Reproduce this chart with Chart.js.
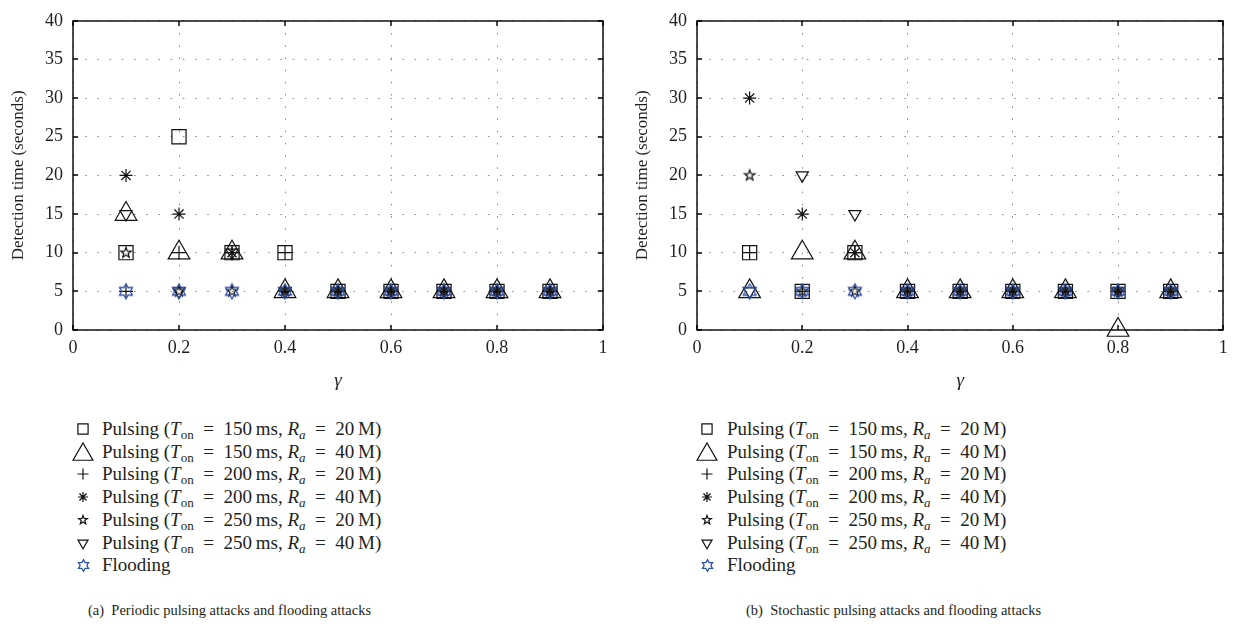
<!DOCTYPE html>
<html>
<head>
<meta charset="utf-8">
<script src="https://cdn.jsdelivr.net/npm/chart.js@4.4.0/dist/chart.umd.min.js"></script>
<style>
  body { margin: 0; background: #fff; width: 1237px; height: 644px; overflow: hidden; position: relative;
         font-family: "Liberation Serif", "DejaVu Serif", serif; color: #231f20; }
  .panel { position: absolute; top: 0; }
  .legend { position: absolute; top: 0; font-size: 19px; }
  .row { position: absolute; white-space: nowrap; height: 22px; line-height: 22px; }
  .row canvas { position: absolute; top: 0; }
  .row span { position: absolute; top: 0; }
  sub { font-size: 13px; vertical-align: -4px; line-height: 0; }
  .caption { position: absolute; top: 602px; font-size: 14.5px; white-space: nowrap; }
</style>
</head>
<body>
<div class="panel" style="left:0px"><canvas id="periodic" width="618" height="400"></canvas></div>
<div class="panel" style="left:624px"><canvas id="stochastic" width="613" height="400"></canvas></div>
<div id="legendA" class="legend" style="left:0px"></div>
<div id="legendB" class="legend" style="left:624px"></div>
<div class="caption" style="left:88px">(a)&nbsp;&nbsp;Periodic pulsing attacks and flooding attacks</div>
<div class="caption" style="left:746px">(b)&nbsp;&nbsp;Stochastic pulsing attacks and flooding attacks</div>
<script>
// gamma on the x axis
const gammaValues = [0.1, 0.2, 0.3, 0.4, 0.5, 0.6, 0.7, 0.8, 0.9];
const xTickValues = [0, 0.2, 0.4, 0.6, 0.8, 1];
const xTickLabels = ['0', '0.2', '0.4', '0.6', '0.8', '1'];
const yTickValues = [0, 5, 10, 15, 20, 25, 30, 35, 40];
const yTickLabels = ['0', '5', '10', '15', '20', '25', '30', '35', '40'];

// detection time (s), periodic pulsing
const periodicT150R20 = [10, 25, 10, 10, 5, 5, 5, 5, 5];
const periodicT150R40 = [15, 10, 10, 5, 5, 5, 5, 5, 5];
const periodicT200R20 = [5, 10, 10, 10, 5, 5, 5, 5, 5];
const periodicT200R40 = [20, 15, 10, 5, 5, 5, 5, 5, 5];
const periodicT250R20 = [10, 5, 5, 5, 5, 5, 5, 5, 5];
const periodicT250R40 = [15, 5, 10, 5, 5, 5, 5, 5, 5];
const periodicFlooding = [5, 5, 5, 5, 5, 5, 5, 5, 5];

// detection time (s), stochastic pulsing
const stochasticT150R20 = [10, 5, 10, 5, 5, 5, 5, 5, 5];
const stochasticT150R40 = [5, 10, 10, 5, 5, 5, 5, 0, 5];
const stochasticT200R20 = [10, 5, 10, 5, 5, 5, 5, 5, 5];
const stochasticT200R40 = [30, 15, 10, 5, 5, 5, 5, 5, 5];
const stochasticT250R20 = [20, 5, 5, 5, 5, 5, 5, 5, 5];
const stochasticT250R40 = [5, 20, 15, 5, 5, 5, 5, 5, 5];
const stochasticFlooding = [5, 5, 5, 5, 5, 5, 5, 5, 5];

const EQ = '&ensp;=&ensp;';
const seriesLabels = [
  'Pulsing (<i>T</i><sub>on</sub>' + EQ + '150&thinsp;ms, <i>R<sub>a</sub></i>' + EQ + '20&thinsp;M)',
  'Pulsing (<i>T</i><sub>on</sub>' + EQ + '150&thinsp;ms, <i>R<sub>a</sub></i>' + EQ + '40&thinsp;M)',
  'Pulsing (<i>T</i><sub>on</sub>' + EQ + '200&thinsp;ms, <i>R<sub>a</sub></i>' + EQ + '20&thinsp;M)',
  'Pulsing (<i>T</i><sub>on</sub>' + EQ + '200&thinsp;ms, <i>R<sub>a</sub></i>' + EQ + '40&thinsp;M)',
  'Pulsing (<i>T</i><sub>on</sub>' + EQ + '250&thinsp;ms, <i>R<sub>a</sub></i>' + EQ + '20&thinsp;M)',
  'Pulsing (<i>T</i><sub>on</sub>' + EQ + '250&thinsp;ms, <i>R<sub>a</sub></i>' + EQ + '40&thinsp;M)',
  'Flooding'
];

const INK = '#111';
const FLOOD_BLUE = '#2f4fa8';
const FONT = '"Liberation Serif", "DejaVu Serif", serif';

// outline star drawn once into a small canvas, used as a pointStyle image
function starImage(points, outer, inner, color, lw) {
  const s = Math.ceil(2 * outer + 2 * lw + 2);
  const c = document.createElement('canvas');
  c.width = s; c.height = s;
  const g = c.getContext('2d');
  g.translate(s / 2, s / 2);
  g.beginPath();
  for (let k = 0; k < 2 * points; k++) {
    const r = k % 2 ? inner : outer;
    const a = -Math.PI / 2 + k * Math.PI / points;
    g.lineTo(r * Math.cos(a), r * Math.sin(a));
  }
  g.closePath();
  g.strokeStyle = color;
  g.lineWidth = lw;
  g.stroke();
  return c;
}

// marker per series: chart size and a smaller legend size
const markers = [
  { style: 'rect', radius: 10, legendRadius: 7.2, color: INK },
  { style: 'triangle', radius: 12.5, legendRadius: 11.5, color: INK },
  { style: 'cross', radius: 7, legendRadius: 5.5, color: INK },
  { style: 'star', radius: 6.5, legendRadius: 5, color: INK },
  { style: starImage(5, 5.5, 2.2, INK, 1.2), legend: starImage(5, 4.6, 1.9, INK, 1.2), color: INK },
  { style: 'triangle', rotation: 180, radius: 7, legendRadius: 5.8, color: INK },
  { style: starImage(6, 7.5, 4.33, FLOOD_BLUE, 1.3), legend: starImage(6, 5.8, 3.35, FLOOD_BLUE, 1.3), color: FLOOD_BLUE }
];

function buildDatasets(seriesValues) {
  return seriesValues.map((vals, i) => {
    const m = markers[i];
    return {
      data: gammaValues.map((g, k) => ({ x: g, y: vals[k] })),
      showLine: false,
      pointStyle: m.style,
      pointRotation: m.rotation || 0,
      pointRadius: m.radius || 6,
      pointBorderWidth: 1.2,
      borderColor: m.color,
      backgroundColor: 'rgba(0,0,0,0)',
      order: seriesValues.length - i,
      clip: false
    };
  });
}

// box round the plot area with short inward ticks on all four sides
const framePlugin = {
  id: 'frame',
  beforeDatasetsDraw(chart) {
    const { ctx, chartArea: a, scales: { x, y } } = chart;
    const L = Math.round(a.left), R = Math.round(a.right);
    const T = Math.round(a.top), B = Math.round(a.bottom);
    const len = 5;
    ctx.save();
    ctx.strokeStyle = '#000';
    ctx.lineWidth = 1.4;
    ctx.strokeRect(L, T, R - L, B - T);
    ctx.beginPath();
    x.ticks.forEach(t => {
      const px = Math.round(x.getPixelForValue(t.value));
      ctx.moveTo(px, B); ctx.lineTo(px, B - len);
      ctx.moveTo(px, T); ctx.lineTo(px, T + len);
    });
    y.ticks.forEach(t => {
      const py = Math.round(y.getPixelForValue(t.value));
      ctx.moveTo(L, py); ctx.lineTo(L + len, py);
      ctx.moveTo(R, py); ctx.lineTo(R - len, py);
    });
    ctx.stroke();
    ctx.restore();
  }
};

function makeChart(id, seriesValues, rightPad) {
  new Chart(document.getElementById(id), {
    type: 'scatter',
    data: { datasets: buildDatasets(seriesValues) },
    options: {
      responsive: false,
      animation: false,
      events: [],
      layout: { padding: { top: 13, right: rightPad, left: 0, bottom: 0 } },
      plugins: { legend: { display: false }, tooltip: { enabled: false } },
      scales: {
        x: {
          type: 'linear', min: 0, max: 1,
          afterBuildTicks: s => { s.ticks = xTickValues.map(v => ({ value: v })); },
          afterFit: s => { s.height = 70; },
          grid: { color: '#8c8c8c', lineWidth: 1, drawTicks: false },
          border: { display: false, dash: [1.6, 10.6] },
          ticks: { padding: 7, color: '#231f20', font: { family: FONT, size: 18 },
                   maxRotation: 0, autoSkip: false, callback: (v, i) => xTickLabels[i] },
          title: { display: true, text: 'γ', color: '#231f20',
                   font: { family: FONT, size: 19, style: 'italic' }, padding: { bottom: 8 } }
        },
        y: {
          type: 'linear', min: 0, max: 40,
          afterBuildTicks: s => { s.ticks = yTickValues.map(v => ({ value: v })); },
          afterFit: s => { s.width = 73; },
          grid: { color: '#8c8c8c', lineWidth: 1, drawTicks: false },
          border: { display: false, dash: [1.6, 10.6] },
          ticks: { padding: 10, color: '#231f20', font: { family: FONT, size: 18 },
                   callback: (v, i) => yTickLabels[i] },
          title: { display: true, text: 'Detection time (seconds)', color: '#231f20',
                   font: { family: FONT, size: 17 }, padding: { top: 8 } }
        }
      }
    },
    plugins: [framePlugin]
  });
}

makeChart('periodic', [periodicT150R20, periodicT150R40, periodicT200R20, periodicT200R40,
                       periodicT250R20, periodicT250R40, periodicFlooding], 15);
makeChart('stochastic', [stochasticT150R20, stochasticT150R40, stochasticT200R20, stochasticT200R40,
                         stochasticT250R20, stochasticT250R40, stochasticFlooding], 10);

// legend rows: marker painted with the same point styles as the chart
function paintMarker(g, m, cx, cy) {
  g.save();
  g.strokeStyle = m.color;
  g.fillStyle = 'rgba(0,0,0,0)';
  g.lineWidth = 1.2;
  if (m.legend) {
    g.drawImage(m.legend, Math.round(cx - m.legend.width / 2), Math.round(cy - m.legend.height / 2));
  } else {
    Chart.helpers.drawPoint(g, { pointStyle: m.style, rotation: m.rotation || 0,
                                 radius: m.legendRadius, borderWidth: 1.2 }, cx, cy);
  }
  g.restore();
}

function buildLegend(id, markerX, textX) {
  const box = document.getElementById(id);
  seriesLabels.forEach((label, i) => {
    const row = document.createElement('div');
    row.className = 'row';
    row.style.top = (418 + i * 22.7) + 'px';
    const c = document.createElement('canvas');
    c.width = 28; c.height = 22;
    c.style.left = (markerX - 14) + 'px';
    row.appendChild(c);
    const tri = markers[i].style === 'triangle' && !markers[i].rotation;
    paintMarker(c.getContext('2d'), markers[i], 14, tri ? 13.5 : 11);
    const span = document.createElement('span');
    span.style.left = textX + 'px';
    span.innerHTML = label;
    row.appendChild(span);
    box.appendChild(row);
  });
}

buildLegend('legendA', 83, 102);
buildLegend('legendB', 83, 103);
</script>
</body>
</html>
